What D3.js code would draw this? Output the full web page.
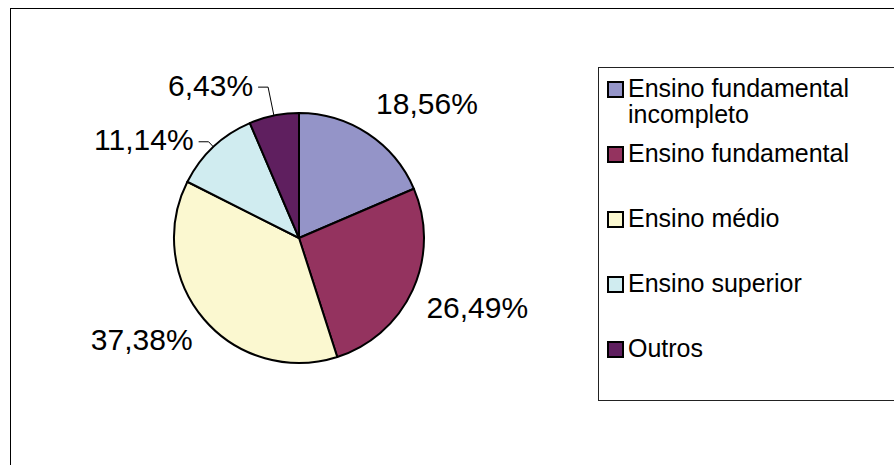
<!DOCTYPE html>
<html>
<head>
<meta charset="utf-8">
<script src="https://cdn.jsdelivr.net/npm/d3@7"></script>
<style>
  html, body { margin: 0; padding: 0; background: #fff; }
  svg { display: block; font-family: "Liberation Sans", Arial, sans-serif; }
</style>
</head>
<body>
<svg id="chart" width="894" height="465"></svg>
<script>
// ---- data ----
const categories = ["Ensino fundamental incompleto", "Ensino fundamental", "Ensino médio", "Ensino superior", "Outros"];
const values = [18.56, 26.49, 37.38, 11.14, 6.43];
const colors = ["#9494c8", "#94335f", "#fbf8d0", "#d0ecf0", "#5f1f5f"];

// ---- layout ----
const W = 894, H = 465;
const cx = 299, cy = 238, R = 125;
const labelGap = 15;
const leaderRadius = { 3: 132, 4: 154 }; // labels moved out with leader lines
const legend = { x: 598, y: 67, w: 320, h: 333, swatchX: 608, textX: 628, firstBaseline: 97, lastBaseline: 357, wrap: 250 };

const svg = d3.select("#chart");
const locale = d3.formatLocale({ decimal: ",", thousands: ".", grouping: [3], currency: ["R$", ""] });
const fmt = locale.format(".2f");

// outer chart border
svg.append("rect").attr("x", 10.5).attr("y", 8.5).attr("width", W).attr("height", H)
  .attr("fill", "#fff").attr("stroke", "#000").attr("stroke-width", 1);

// pie
const pie = d3.pie().sort(null).value(d => d);
const arcs = pie(values);
const arc = d3.arc().innerRadius(0).outerRadius(R);
const g = svg.append("g").attr("transform", `translate(${cx},${cy})`);
g.selectAll("path.slice").data(arcs).join("path")
  .attr("class", "slice")
  .attr("d", arc)
  .attr("fill", (d, i) => colors[i])
  .attr("stroke", "#000").attr("stroke-width", 2).attr("stroke-linejoin", "round");

// labels
const fontSize = 30, capH = fontSize * 0.716;
arcs.forEach((d, i) => {
  const a = (d.startAngle + d.endAngle) / 2;
  const s = Math.sin(a), c = Math.cos(a);
  const txt = fmt(values[i]) + "%";
  if (leaderRadius[i] !== undefined) {
    const p0 = [s * R, -c * R];
    const lr = leaderRadius[i];
    const p1 = [s * lr, -c * lr];
    const p2 = [p1[0] - 10, p1[1]];
    g.append("polyline")
      .attr("points", [p0, p1, p2].map(p => p.join(",")).join(" "))
      .attr("fill", "none").attr("stroke", "#000").attr("stroke-width", 1);
    g.append("text").attr("x", p2[0] - 5).attr("y", p2[1] + 8.5)
      .attr("text-anchor", "end").attr("font-size", fontSize).attr("fill", "#000").text(txt);
  } else {
    const rr = R + labelGap;
    const px = s * rr, py = -c * rr;
    const anchor = s >= 0 ? "start" : "end";
    const by = c > 0 ? py - 7 : py + capH;
    g.append("text").attr("x", px).attr("y", by)
      .attr("text-anchor", anchor).attr("font-size", fontSize).attr("fill", "#000").text(txt);
  }
});

// legend
svg.append("rect").attr("x", legend.x + 0.5).attr("y", legend.y + 0.5)
  .attr("width", legend.w).attr("height", legend.h)
  .attr("fill", "#fff").attr("stroke", "#222").attr("stroke-width", 1);

const ly = d3.scalePoint().domain(categories).range([legend.firstBaseline, legend.lastBaseline]);
const lgFont = 25;
categories.forEach((cat, i) => {
  const b = ly(cat);
  svg.append("rect").attr("x", legend.swatchX).attr("y", b - 15)
    .attr("width", 15).attr("height", 15)
    .attr("fill", colors[i]).attr("stroke", "#000").attr("stroke-width", 2);
  const t = svg.append("text").attr("x", legend.textX).attr("y", b)
    .attr("font-size", lgFont).attr("fill", "#000");
  // word wrap
  const words = cat.split(" ");
  let line = [], lineNo = 0;
  let ts = t.append("tspan").attr("x", legend.textX).attr("y", b);
  words.forEach(w => {
    line.push(w);
    ts.text(line.join(" "));
    if (ts.node().getComputedTextLength() > legend.wrap && line.length > 1) {
      line.pop();
      ts.text(line.join(" "));
      line = [w];
      lineNo++;
      ts = t.append("tspan").attr("x", legend.textX).attr("y", b + lineNo * 26).text(w);
    }
  });
});
</script>
</body>
</html>
